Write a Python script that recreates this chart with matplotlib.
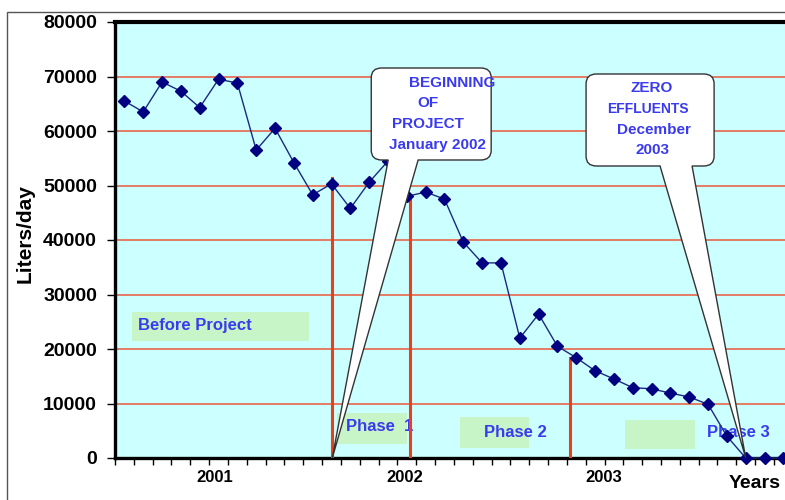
import matplotlib.pyplot as plt
from matplotlib.path import Path
from matplotlib.patches import PathPatch, Rectangle
import numpy as np

plt.rcParams['font.family'] = ['Liberation Sans', 'DejaVu Sans']

# monthly effluent volume, liters/day
values = [65500, 63500, 69000, 67300, 64300, 69500, 68800, 56500, 60500, 54200,
          48300, 50300, 45800, 50600, 54500, 48000, 48800, 47500, 39600, 35800,
          35800, 22000, 26400, 20500, 18400, 16000, 14500, 12900, 12700, 11900,
          11200, 9850, 4000, 0, 0, 0]
year_labels = ['2001', '2002', '2003']
year_pos = [4.8, 14.9, 25.45]

# red phase markers: (x, top)
markers_x = [11.0, 15.18, 23.67]
markers_top = [51300, 48000, 18400]

# green label boxes: (x0, x1, y0, y1), text, text x, text y
box_rects = [(0.42, 9.82, 21470, 26790), (11.31, 15.02, 2570, 8260),
             (17.83, 21.5, 1835, 7520), (26.6, 30.3, 1650, 6970)]
box_texts = ['Before Project', 'Phase  1', 'Phase 2', 'Phase 3']
box_text_x = [0.74, 11.78, 19.1, 30.94]
box_text_y = [24400, 5690, 4770, 4770]

blue = '#3A3AEE'
navy = '#000080'

fig = plt.figure(figsize=(7.85, 5), dpi=100)
ax = fig.add_axes([115 / 785, 42 / 500, 677.8 / 785, 436 / 500])
ax.set_facecolor('#CCFFFF')

x = np.arange(len(values))
ax.set_xlim(-0.48, 35.5)
ax.set_ylim(0, 80000)

ax.set_yticks(range(0, 80001, 10000))
ax.yaxis.grid(True, color='#E8664A', lw=1.2)
ax.set_axisbelow(True)
ax.tick_params(axis='y', direction='out', length=6, width=1, pad=7, labelsize=14)
for lab in ax.get_yticklabels():
    lab.set_fontweight('bold')

ax.set_xticks(np.arange(-0.5, 36, 1))
ax.set_xticklabels([])
ax.set_xticks(year_pos, year_labels, minor=True)
ax.tick_params(axis='x', which='major', direction='out', length=5, width=1)
ax.tick_params(axis='x', which='minor', length=0, pad=9, labelsize=12)
for lab in ax.get_xticklabels(minor=True):
    lab.set_fontweight('bold')

for side, lw in [('left', 2.4), ('top', 3.0), ('bottom', 2.4)]:
    ax.spines[side].set_linewidth(lw)
ax.spines['right'].set_visible(False)

ax.set_ylabel('Liters/day', fontsize=15, fontweight='bold')
ax.yaxis.set_label_coords(-0.118, 0.514)

# green label boxes
for (x0, x1, y0, y1), t, tx, ty in zip(box_rects, box_texts, box_text_x, box_text_y):
    ax.add_patch(Rectangle((x0, y0), x1 - x0, y1 - y0, color='#C8F5C8', lw=0, zorder=2))
    ax.text(tx, ty, t, color=blue, fontsize=12, fontweight='bold',
            ha='left', va='center', zorder=3)

ax.plot(x, values, color='#1A2A80', lw=1, marker='D', ms=6,
        mfc=navy, mec=navy, zorder=4, clip_on=False)

for mx, top in zip(markers_x, markers_top):
    ax.plot([mx, mx], [0, top], color='#E8401C', lw=2.2, zorder=3)


def callout(x0, x1, y0, y1, tx0, tx1, tip, rx=0.55, ry=1800):
    verts = [(x0 + rx, y0), (tx0, y0), tip, (tx1, y0), (x1 - rx, y0),
             (x1, y0), (x1, y0 + ry), (x1, y1 - ry), (x1, y1), (x1 - rx, y1),
             (x0 + rx, y1), (x0, y1), (x0, y1 - ry), (x0, y0 + ry), (x0, y0),
             (x0 + rx, y0), (x0 + rx, y0)]
    codes = [Path.MOVETO, Path.LINETO, Path.LINETO, Path.LINETO, Path.LINETO,
             Path.CURVE3, Path.CURVE3, Path.LINETO, Path.CURVE3, Path.CURVE3,
             Path.LINETO, Path.CURVE3, Path.CURVE3, Path.LINETO, Path.CURVE3,
             Path.CURVE3, Path.CLOSEPOLY]
    ax.add_patch(PathPatch(Path(verts, codes), fc='white', ec='#333333',
                           lw=1, zorder=5))


callout(13.11, 19.48, 54680, 71560, 14.01, 15.6, (11.04, 0))
callout(24.52, 31.32, 53580, 70460, 28.45, 30.15, (33.0, 0))

kw = dict(color=blue, fontsize=11, fontweight='bold', va='center', zorder=6)
ax.text(15.13, 68810, 'BEGINNING', ha='left', **kw)
ax.text(15.55, 65140, 'OF', ha='left', **kw)
ax.text(14.23, 61290, 'PROJECT', ha='left', **kw)
ax.text(14.07, 57440, 'January 2002', ha='left', **kw)

ax.text(28.03, 67900, 'ZERO', ha='center', **kw)
ax.text(27.81, 64040, 'EFFLUENTS', ha='center', color=blue, fontsize=10,
        fontweight='bold', va='center', zorder=6)
ax.text(28.13, 60190, 'December', ha='center', **kw)
ax.text(28.03, 56520, '2003', ha='center', **kw)

fig.text(729 / 785, 1 - 483 / 500, 'Years', fontsize=14, fontweight='bold',
         ha='left', va='center')

fig.add_artist(Rectangle((7 / 785, -0.05), 1.1, 1.038 - 6 / 500,
                         transform=fig.transFigure, fill=False,
                         ec='#555555', lw=1))

fig.savefig('out.png', dpi=100)
